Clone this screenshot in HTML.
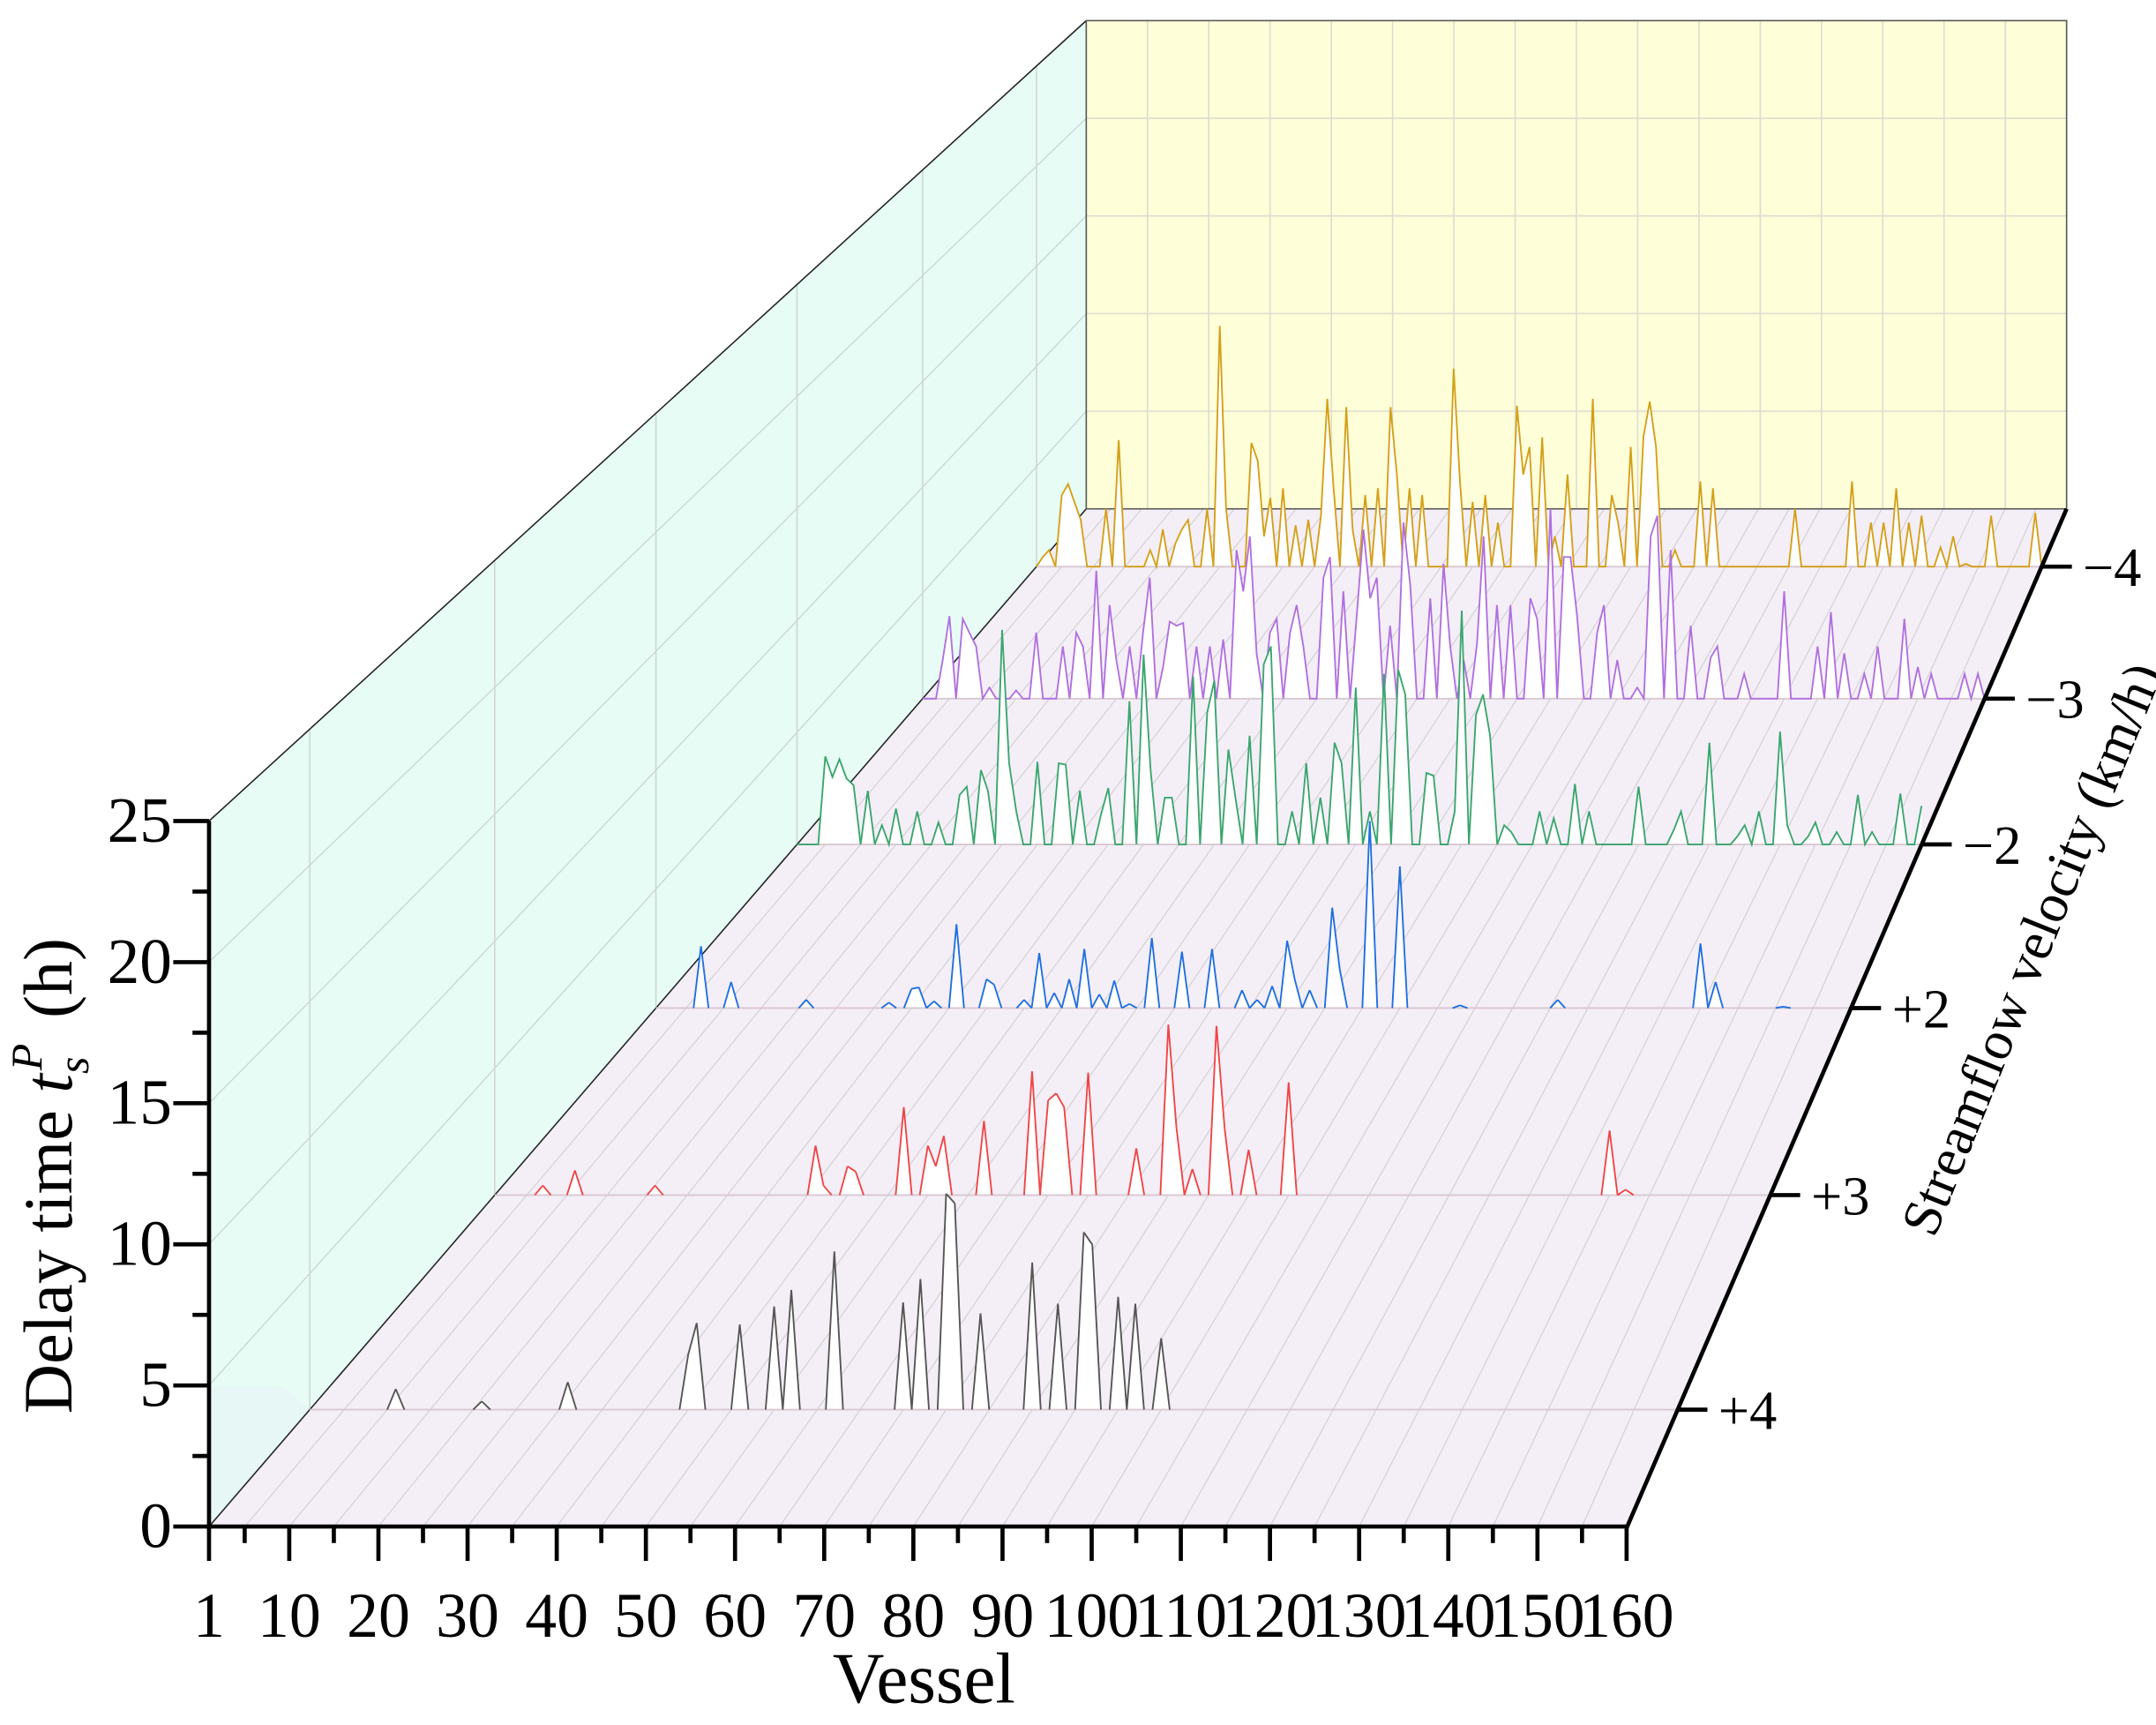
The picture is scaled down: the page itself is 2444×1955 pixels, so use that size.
<!DOCTYPE html>
<html><head><meta charset="utf-8"><style>
html,body{margin:0;padding:0;background:#fff}
svg{display:block}
text{font-family:"Liberation Serif",serif;fill:#000}
</style></head><body>
<svg id="s" width="2444" height="1955" viewBox="0 0 1568 1254.3" xmlns="http://www.w3.org/2000/svg"></svg>
<script>
const S=document.getElementById('s');let o='';
const FY=1110,BY=370;
function L(y){return 152+(FY-y)*(638/740);}
function R(y){return 1183+(FY-y)*(320/740);}
function ph(y){return (R(y)-L(y))/1031*20.52;}
o+=`<polygon points="152,597 790,15 790,370 152,1110" fill="#e6fcf4"/>`;
o+=`<polygon points="152,1008 205,1008 225,1025 152,1110" fill="#e6f7f6"/>`;
o+=`<polygon points="790,15 1503,15 1503,370 790,370" fill="#fefed9"/>`;
o+=`<polygon points="152,1110 790,370 1503,370 1183,1110" fill="#f4eef7"/>`;
for(let i=0;i<=16;i++){const x=790+i*713/16;o+=`<line x1="${x}" y1="15" x2="${x}" y2="370" stroke="#dcdcd0" stroke-width="1"/>`;}
for(let h=5;h<25;h+=5){const y=370-h*14.2;o+=`<line x1="790" y1="${y}" x2="1503" y2="${y}" stroke="#dcdcd0" stroke-width="1"/>`;}
for(let h=5;h<25;h+=5){o+=`<line x1="152" y1="${FY-h*20.52}" x2="790" y2="${BY-h*14.2}" stroke="#c8d4cf" stroke-width="0.8"/>`;}
const bases=[412,508,614,733,869,1025];
for(const b of bases){const x=L(b);const yt=597-(x-152)*(582/638);o+=`<line x1="${x}" y1="${yt}" x2="${x}" y2="${b}" stroke="#cfd6d3" stroke-width="1"/>`;}
const fv=[1];for(let v=5;v<=160;v+=5)fv.push(v);
for(const v of fv){const xf=152+(v-1)*1031/159,xb=790+(v-1)*713/159;o+=`<line x1="${xf}" y1="${FY}" x2="${xb}" y2="${BY}" stroke="#cfcfcf" stroke-width="0.7"/>`;}
o+=`<line x1="152" y1="1110" x2="790" y2="370" stroke="#222" stroke-width="1"/>`;
o+=`<line x1="152" y1="597" x2="790" y2="15" stroke="#222" stroke-width="1"/>`;
o+=`<rect x="790" y="15" width="713" height="355" fill="none" stroke="#555" stroke-width="1"/>`;
const ser=[
[412,'#d4a017',1,[[757,405],[762,400],[770,360],[775,352],[780,365],[785,378],[805,370],[812,320],[838,400],[846,385],[854,395],[860,385],[866,378],[876,370],[880,380],[885,237],[892,370],[910,322],[915,335],[920,390],[925,362],[932,355],[940,382],[950,378],[960,375],[966,290],[972,355],[977,296],[985,385],[995,360],[1000,355],[1010,296],[1017,345],[1025,355],[1035,360],[1055,268],[1062,350],[1070,365],[1078,360],[1090,380],[1102,295],[1108,345],[1114,325],[1120,318],[1130,390],[1140,345],[1160,290],[1170,360],[1178,380],[1188,325],[1195,318],[1200,292],[1205,325],[1220,400],[1235,350],[1248,355],[1305,370],[1345,350],[1360,380],[1370,380],[1380,355],[1390,380],[1398,375],[1410,398],[1420,390],[1430,410],[1450,375],[1478,373]]],
[508,'#b070e0',1,[[685,480],[692,448],[698,450],[705,460],[712,470],[720,500],[738,502],[755,460],[772,470],[782,460],[790,470],[797,415],[805,440],[812,480],[822,470],[830,460],[838,420],[845,485],[850,452],[856,455],[862,453],[868,470],[880,470],[888,465],[898,400],[905,430],[910,390],[914,475],[922,460],[930,450],[937,460],[942,440],[950,470],[962,420],[968,405],[975,430],[985,448],[990,385],[996,435],[1002,420],[1010,455],[1020,380],[1027,425],[1040,435],[1050,410],[1055,470],[1065,480],[1073,468],[1080,390],[1087,440],[1097,440],[1112,435],[1120,450],[1130,370],[1138,405],[1142,405],[1148,448],[1160,460],[1168,440],[1178,480],[1190,500],[1200,390],[1205,375],[1215,400],[1230,455],[1242,478],[1248,470],[1270,490],[1297,430],[1300,470],[1320,470],[1330,445],[1342,475],[1354,490],[1365,470],[1385,450],[1395,485],[1405,490],[1430,490],[1440,490]]],
[614,'#3aa66e',1,[[598,550],[603,565],[610,552],[614,566],[622,571],[630,575],[640,600],[653,588],[668,590],[685,598],[700,578],[705,572],[713,560],[720,575],[727,458],[734,555],[741,590],[752,554],[768,555],[776,556],[785,575],[800,592],[808,573],[820,510],[830,476],[838,560],[845,580],[852,580],[870,492],[878,518],[883,495],[891,545],[900,580],[910,535],[917,483],[922,470],[940,590],[950,555],[960,580],[968,540],[975,555],[985,500],[995,590],[1005,490],[1018,487],[1022,505],[1035,562],[1045,564],[1060,590],[1065,444],[1072,520],[1080,505],[1086,535],[1095,600],[1100,605],[1120,590],[1130,595],[1143,570],[1154,590],[1193,572],[1215,603],[1225,590],[1243,540],[1262,608],[1268,600],[1280,590],[1294,532],[1302,600],[1313,608],[1320,598],[1338,605],[1353,578],[1363,605],[1380,577],[1395,586]]],
[733,'#1f6fe0',0,[[508,688],[530,714],[585,727],[645,729],[662,719],[667,718],[678,728],[695,672],[719,712],[724,716],[744,727],[756,693],[768,722],[775,712],[780,716],[790,690],[797,723],[808,713],[822,730],[840,682],[860,692],[883,690],[902,720],[915,727],[924,717],[936,684],[944,712],[952,720],[967,660],[977,705],[994,597],[1018,630],[1061,731],[1131,727],[1237,686],[1248,714],[1295,732]]],
[869,'#f04545',0,[[393,862],[417,851],[476,862],[591,833],[597,862],[614,848],[620,852],[656,805],[672,833],[678,848],[687,826],[714,815],[750,779],[764,800],[770,795],[776,805],[791,780],[826,835],[849,745],[856,820],[866,850],[884,746],[890,820],[908,836],[937,787],[1170,822],[1180,865]]],
[1025,'#555555',0,[[289,1010],[350,1019],[410,1009],[415,1005],[500,985],[505,962],[537,963],[562,950],[576,938],[606,910],[657,947],[669,930],[688,868],[693,875],[713,955],[752,918],[770,948],[790,896],[795,905],[812,943],[826,948],[846,973]]]
];
for(const [b,c,full,pk] of ser){
  const l=L(b),r=R(b),p=ph(b);const d=new Array(162).fill(0);
  for(const [x,y] of pk){const v=Math.round(1+(x-l)/(r-l)*159);if(v>=1&&v<=160)d[v]=Math.max(d[v],(b-y)/p);}
  let pts=[];for(let v=1;v<=160;v++){pts.push([(l+(v-1)*(r-l)/159).toFixed(1),(b-d[v]*p).toFixed(1)]);}
  const ps=pts.map(q=>q.join(',')).join(' ');
  o+=`<polygon points="${l},${b} ${ps} ${r},${b}" fill="#fff"/>`;
  o+=`<line x1="${l}" y1="${b}" x2="${r}" y2="${b}" stroke="#d8c8d0" stroke-width="1.2"/>`;
  if(full){o+=`<polyline points="${ps}" fill="none" stroke="${c}" stroke-width="1.2"/>`;}
  else{let pth='';for(let v=1;v<160;v++){if(d[v]>0||d[v+1]>0){pth+=`M${pts[v-1][0]},${pts[v-1][1]}L${pts[v][0]},${pts[v][1]}`;}}
    o+=`<path d="${pth}" fill="none" stroke="${c}" stroke-width="1.2" stroke-linejoin="round"/>`;}
}
o+=`<line x1="152" y1="597" x2="152" y2="1112" stroke="#000" stroke-width="3"/>`;
o+=`<line x1="150" y1="1110" x2="1183" y2="1110" stroke="#000" stroke-width="3"/>`;
o+=`<line x1="1183" y1="1111" x2="1503" y2="370" stroke="#000" stroke-width="3"/>`;
for(let h=0;h<=25;h+=2.5){const y=FY-h*20.52;const mj=h%5===0;o+=`<line x1="${mj?126:140}" y1="${y}" x2="152" y2="${y}" stroke="#000" stroke-width="3"/>`;if(mj)o+=`<text x="125" y="${y+15}" font-size="47" text-anchor="end">${h}</text>`;}
const xl=[1,10,20,30,40,50,60,70,80,90,100,110,120,130,140,150,160];
for(const v of xl){const x=152+(v-1)*1031/159;o+=`<line x1="${x}" y1="1110" x2="${x}" y2="1135" stroke="#000" stroke-width="3"/>`;o+=`<text x="${x}" y="1190" font-size="46" text-anchor="middle">${v}</text>`;}
for(let v=5;v<160;v+=10){const x=152+(v-1)*1031/159;o+=`<line x1="${x}" y1="1110" x2="${x}" y2="1122" stroke="#000" stroke-width="3"/>`;}
const dl=['\u22124','\u22123','\u22122','+2','+3','+4'];
bases.forEach((b,i)=>{const x=R(b);o+=`<line x1="${x}" y1="${b}" x2="${x+22}" y2="${b}" stroke="#000" stroke-width="3"/>`;o+=`<text x="${x+30}" y="${b+14}" font-size="40">${dl[i]}</text>`;});
o+=`<text x="672" y="1238" font-size="52" text-anchor="middle">Vessel</text>`;
o+=`<text transform="translate(52,855) rotate(-90)" font-size="50" text-anchor="middle">Delay time <tspan font-style="italic">t</tspan><tspan font-style="italic" font-size="32" dy="12">s</tspan><tspan font-style="italic" font-size="32" dy="-34" dx="-10">P</tspan><tspan dy="22" dx="6"> (h)</tspan></text>`;
o+=`<text transform="translate(1490,695) rotate(-68)" font-size="40" text-anchor="middle">Streamflow velocity (km/h)</text>`;
S.innerHTML=o;
</script>
</body></html>
